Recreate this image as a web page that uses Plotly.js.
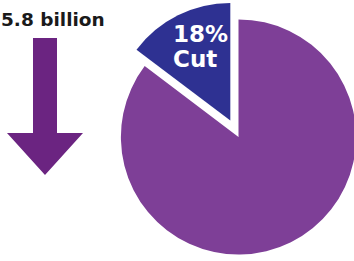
<!DOCTYPE html>
<html>
<head>
<meta charset="utf-8">
<script src="https://cdn.plot.ly/plotly-3.0.1.min.js"></script>
<style>
html, body { margin: 0; padding: 0; overflow: hidden; background: #ffffff; }
#chart { width: 380px; height: 280px; }
</style>
</head>
<body>
<div id="chart"></div>
<script>
// Data
var sliceLabels = ["Cut", "Remaining"];
var sliceValues = [14.7, 85.3];
var slicePull = [0.156, 0];
var sliceColors = ["#2e3192", "#7e3f97"];
var cutLabelLines = ["18%", "Cut"];
var headline = "5.8 billion";

var W = 380, H = 280;
function px(x) { return x / W; }
function py(y) { return 1 - y / H; }

// pie domain in pixels (center 238.5,137; radius 117.6 incl. pull room)
var half = 135.95, cx = 238.5, cy = 137;
var domX = [px(cx - half), px(cx + half)];
var domY = [py(cy + half), py(cy - half)];

var trace = {
  type: "pie",
  labels: sliceLabels,
  values: sliceValues,
  pull: slicePull,
  sort: false,
  direction: "clockwise",
  rotation: -sliceValues[0] / (sliceValues[0] + sliceValues[1]) * 360,
  textinfo: "none",
  hoverinfo: "label+percent",
  marker: { colors: sliceColors, line: { width: 0 } },
  domain: { x: domX, y: domY },
  showlegend: false
};

var arrowPts = [[33,38],[57,38],[57,133],[83,133],[45,175],[7,133],[33,133]];
var arrowPath = "M " + arrowPts.map(function(p){ return px(p[0]).toFixed(5) + "," + py(p[1]).toFixed(5); }).join(" L ") + " Z";

var labelFont = { family: "DejaVu Sans", size: 23, color: "#ffffff", weight: "bold" };

var layout = {
  width: W,
  height: H,
  margin: { l: 0, r: 0, t: 0, b: 0 },
  paper_bgcolor: "#ffffff",
  plot_bgcolor: "#ffffff",
  showlegend: false,
  shapes: [{
    type: "path",
    xref: "paper", yref: "paper",
    path: arrowPath,
    fillcolor: "#6b2481",
    line: { width: 0 }
  }],
  annotations: [
    {
      xref: "paper", yref: "paper",
      x: px(-1), y: py(19.5),
      xanchor: "left", yanchor: "middle",
      text: "<b>" + headline + "</b>",
      showarrow: false,
      font: { family: "DejaVu Sans", size: 18.5, color: "#1a1a1a" }
    },
    {
      xref: "paper", yref: "paper",
      x: px(170.5), y: py(33.5),
      xanchor: "left", yanchor: "middle",
      text: "<b>" + cutLabelLines[0] + "</b>",
      showarrow: false,
      font: labelFont
    },
    {
      xref: "paper", yref: "paper",
      x: px(170.5), y: py(58.5),
      xanchor: "left", yanchor: "middle",
      text: "<b>" + cutLabelLines[1] + "</b>",
      showarrow: false,
      font: labelFont
    }
  ]
};

Plotly.newPlot("chart", [trace], layout, { displayModeBar: false, staticPlot: true });
</script>
</body>
</html>
